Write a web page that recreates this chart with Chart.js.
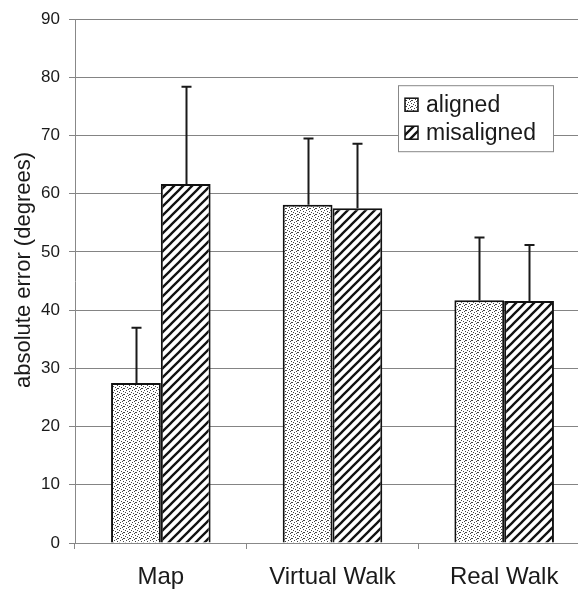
<!DOCTYPE html>
<html><head><meta charset="utf-8">
<script src="https://cdn.jsdelivr.net/npm/chart.js@4.4.0/dist/chart.umd.min.js"></script>
<style>html,body{margin:0;padding:0;background:#fff;overflow:hidden;width:578px;height:590px}canvas{display:block}</style>
</head><body><canvas id="c" width="600" height="590"></canvas>
<script>
const categories = ['Map', 'Virtual Walk', 'Real Walk'];
const seriesNames = ['aligned', 'misaligned'];
const alignedMeans = [27.5, 58.1, 41.7];
const misalignedMeans = [61.7, 57.5, 41.6];
const alignedSD = [9.5, 11.4, 10.8];
const misalignedSD = [16.7, 11.1, 9.6];
const yTicks = [0, 10, 20, 30, 40, 50, 60, 70, 80, 90];
const axisTitle = 'absolute error (degrees)';

const FONT = "'Liberation Sans', Arial, Helvetica, sans-serif";

function makeDots() {
  const t = document.createElement('canvas'); t.width = 6; t.height = 6;
  const g = t.getContext('2d');
  g.fillStyle = '#fff'; g.fillRect(0, 0, 6, 6);
  g.fillStyle = '#444';
  [[0,0],[3,1],[1,3],[4,4],[2,5],[5,2],[3,4]].forEach(p => g.fillRect(p[0], p[1], 1, 1));
  return document.getElementById('c').getContext('2d').createPattern(t, 'repeat');
}
function makeHatch() {
  const s = 9;
  const t = document.createElement('canvas'); t.width = s; t.height = s;
  const g = t.getContext('2d');
  g.fillStyle = '#fff'; g.fillRect(0, 0, s, s);
  g.strokeStyle = '#111'; g.lineWidth = 2.3; g.lineCap = 'square';
  g.beginPath();
  g.moveTo(-1, s + 1); g.lineTo(s + 1, -1);
  g.moveTo(-2, 2); g.lineTo(2, -2);
  g.moveTo(s - 2, s + 2); g.lineTo(s + 2, s - 2);
  g.stroke();
  return document.getElementById('c').getContext('2d').createPattern(t, 'repeat');
}
const dotPattern = makeDots();
const hatchPattern = makeHatch();
const patterns = [dotPattern, hatchPattern];
const sds = [alignedSD, misalignedSD];

const errorBars = {
  id: 'errorBars',
  afterDatasetsDraw(chart) {
    const ctx = chart.ctx, y = chart.scales.y;
    ctx.save();
    ctx.strokeStyle = '#1a1a1a'; ctx.lineWidth = 2;
    chart.data.datasets.forEach((ds, di) => {
      const meta = chart.getDatasetMeta(di);
      meta.data.forEach((bar, i) => {
        const top = y.getPixelForValue(ds.data[i] + sds[di][i]);
        const x = Math.round(bar.x) + 0.5;
        ctx.beginPath();
        ctx.moveTo(x, bar.y); ctx.lineTo(x, top);
        ctx.moveTo(x - 5, top); ctx.lineTo(x + 5, top);
        ctx.stroke();
      });
    });
    ctx.restore();
  }
};

const extras = {
  id: 'extras',
  afterDraw(chart) {
    const ctx = chart.ctx, ca = chart.chartArea;
    ctx.save();
    // legend box
    const lx = ca.right - 192, ly = ca.top + 66, lw = 155, lh = 66;
    ctx.fillStyle = '#fff'; ctx.fillRect(lx, ly, lw, lh);
    ctx.strokeStyle = '#888'; ctx.lineWidth = 1;
    ctx.strokeRect(lx + 0.5, ly + 0.5, lw, lh);
    ctx.font = '23px ' + FONT;
    ctx.textBaseline = 'middle'; ctx.textAlign = 'left';
    seriesNames.forEach((name, i) => {
      const cy = ly + 19 + i * 28;
      ctx.fillStyle = patterns[i];
      ctx.fillRect(lx + 7, cy - 6, 13, 13);
      ctx.strokeStyle = '#111'; ctx.lineWidth = 1.5;
      ctx.strokeRect(lx + 7, cy - 6, 13, 13);
      ctx.fillStyle = '#1a1a1a';
      ctx.fillText(name, lx + 28, cy + 1);
    });
    // y axis title
    ctx.translate(24, 270);
    ctx.rotate(-Math.PI / 2);
    ctx.font = '22px ' + FONT;
    ctx.textAlign = 'center'; ctx.textBaseline = 'middle';
    ctx.fillStyle = '#1a1a1a';
    ctx.fillText(axisTitle, 0, 0);
    ctx.restore();
  }
};

new Chart(document.getElementById('c'), {
  type: 'bar',
  data: {
    labels: categories,
    datasets: [
      { label: seriesNames[0], data: alignedMeans, backgroundColor: dotPattern, borderColor: '#111', borderWidth: 2 },
      { label: seriesNames[1], data: misalignedMeans, backgroundColor: hatchPattern, borderColor: '#111', borderWidth: 2 }
    ]
  },
  options: {
    responsive: false,
    devicePixelRatio: 1,
    animation: false,
    events: [],
    layout: { padding: { left: 0, right: 10, top: 19, bottom: 0 } },
    plugins: { legend: { display: false }, tooltip: { enabled: false } },
    datasets: { bar: { categoryPercentage: 0.58, barPercentage: 1.0 } },
    scales: {
      x: {
        afterFit(s) { s.height = 47; },
        grid: { offset: true, drawOnChartArea: false, color: '#888', tickLength: 6, lineWidth: 1 },
        border: { color: '#888', width: 1 },
        ticks: { font: { family: FONT, size: 24 }, color: '#1a1a1a', padding: 14 }
      },
      y: {
        min: yTicks[0], max: yTicks[yTicks.length - 1],
        afterFit(s) { s.width = 75; },
        afterBuildTicks(s) { s.ticks = yTicks.map(v => ({ value: v })); },
        grid: { color: '#848484', tickLength: 6, lineWidth: 1 },
        border: { color: '#888', width: 1 },
        ticks: { font: { family: FONT, size: 17 }, color: '#1a1a1a', padding: 9 }
      }
    }
  },
  plugins: [errorBars, extras]
});
</script>
</body></html>
